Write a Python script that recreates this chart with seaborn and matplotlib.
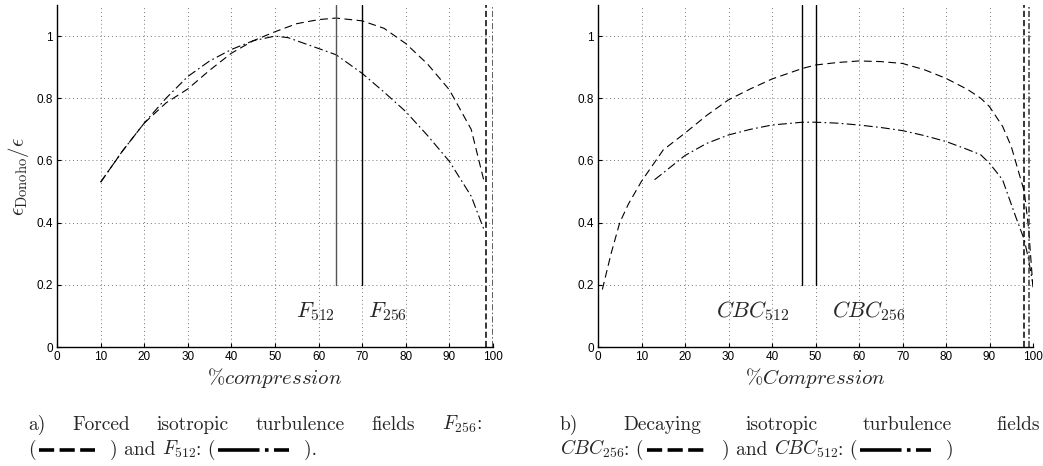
import numpy as np
import pandas as pd
import seaborn as sns
import matplotlib
matplotlib.use("Agg")
import matplotlib.pyplot as plt
from matplotlib.lines import Line2D

# Forced isotropic turbulence (panel a)
f256_x = [10, 15, 20, 25, 30, 35, 40, 45, 50, 55, 60, 64, 70, 75, 80, 85, 90, 95, 98]
f256_y = [0.53, 0.63, 0.72, 0.785, 0.83, 0.89, 0.945, 0.985, 1.014, 1.04, 1.053, 1.058, 1.049, 1.025, 0.976, 0.91, 0.827, 0.70, 0.53]
f512_x = [10, 15, 20, 25, 30, 35, 40, 45, 50, 53, 60, 64, 70, 75, 80, 85, 90, 95, 98]
f512_y = [0.53, 0.63, 0.72, 0.80, 0.87, 0.92, 0.957, 0.985, 1.0, 0.995, 0.96, 0.94, 0.88, 0.82, 0.757, 0.68, 0.597, 0.485, 0.375]
f_cut = [64, 70]          # optimal compression: F512, F256
f_thr = [98.3, 100]       # Donoho threshold: F256, F512

# Decaying isotropic turbulence (panel b)
c256_x = [1, 3, 5, 7, 10, 15, 20, 25, 30, 35, 40, 47, 50, 55, 60, 65, 70, 75, 80, 85, 88, 90, 93, 95, 98, 99, 100]
c256_y = [0.185, 0.30, 0.40, 0.46, 0.533, 0.634, 0.688, 0.745, 0.795, 0.83, 0.862, 0.896, 0.907, 0.915, 0.92, 0.918, 0.912, 0.892, 0.864, 0.828, 0.80, 0.773, 0.71, 0.645, 0.50, 0.38, 0.19]
c512_x = [13, 15, 20, 25, 30, 35, 40, 47, 50, 55, 60, 65, 70, 75, 80, 85, 88, 90, 93, 96, 98, 99, 100]
c512_y = [0.538, 0.56, 0.616, 0.655, 0.682, 0.70, 0.714, 0.723, 0.723, 0.72, 0.714, 0.706, 0.696, 0.68, 0.661, 0.635, 0.618, 0.591, 0.538, 0.42, 0.345, 0.28, 0.20]
c_cut = [47, 50]          # optimal compression: CBC512, CBC256
c_thr = [97.9, 99.0]      # Donoho threshold: CBC256, CBC512

sns.set_theme(style="white")
plt.rcParams["mathtext.fontset"] = "cm"
plt.rcParams["font.family"] = ["Liberation Sans", "DejaVu Sans"]

W, H = 1043, 466
fig = plt.figure(figsize=(W / 100, H / 100), dpi=100)

def px_axes(x0, x1, y0, y1):
    return fig.add_axes([x0 / W, 1 - y1 / H, (x1 - x0) / W, (y1 - y0) / H])

ax1 = px_axes(57, 493, 5, 347)
ax2 = px_axes(598, 1033, 5, 347)

DASH = (0, (7, 4))
DASHDOT = (0, (8, 3, 1.5, 3))

def style_axes(ax):
    ax.set_xlim(0, 100)
    ax.set_ylim(0, 1.1)
    ax.set_xticks(np.arange(0, 101, 10))
    ax.set_yticks([0, 0.2, 0.4, 0.6, 0.8, 1.0])
    ax.set_yticklabels(["0", "0.2", "0.4", "0.6", "0.8", "1"])
    ax.grid(True, linestyle=(0, (1, 3)), color="#777777", linewidth=0.7)
    for s in ("top", "right"):
        ax.spines[s].set_visible(False)
    for s in ("left", "bottom"):
        ax.spines[s].set_color("black")
        ax.spines[s].set_linewidth(1.0)
    ax.tick_params(direction="in", length=3, width=0.8, labelsize=8.5, pad=3,
                   colors="black", left=True, bottom=True)
    ax.set_facecolor("white")

def draw_panel(ax, xa, ya, xb, yb, cuts, cut_cols, thr, labels, label_x, xlabel):
    sns.lineplot(x=xa, y=ya, ax=ax, color="black", linewidth=0.8, linestyle=DASH, sort=False)
    sns.lineplot(x=xb, y=yb, ax=ax, color="black", linewidth=0.8, linestyle=DASHDOT, sort=False)
    for c, col in zip(cuts, cut_cols):
        ax.axvline(c, ymin=0.2 / 1.1, ymax=1, color=col, linewidth=1.0)
    ax.axvline(thr[0], color="black", linewidth=1.1, linestyle=(0, (4, 2)))
    ax.axvline(thr[1], color="#333333", linewidth=1.1, linestyle=(0, (4, 1.5, 1, 1.5)))
    for lab, lx in zip(labels, label_x):
        ax.text(lx, 0.115, lab, fontsize=16, ha="center", va="center")
    style_axes(ax)
    ax.set_xlabel(xlabel, fontsize=15, labelpad=2)

draw_panel(ax1, f256_x, f256_y, f512_x, f512_y, f_cut, ["#555555", "black"], f_thr,
           [r"$F_{512}$", r"$F_{256}$"], [59.2, 75.7], r"$\%compression$")
ax1.set_ylabel(r"$\epsilon_{\rm Donoho}/\epsilon$", fontsize=15, labelpad=4)

draw_panel(ax2, c256_x, c256_y, c512_x, c512_y, c_cut, ["black", "black"], c_thr,
           [r"$CBC_{512}$", r"$CBC_{256}$"], [35.5, 62.3], r"$\%Compression$")
ax2.set_ylabel("")

# ---- captions below the panels, laid out in pixel units ----
CAP_FS = 14
renderer = fig.canvas.get_renderer()

def put_text(x, base_y, s):
    t = fig.text(x / W, 1 - base_y / H, s, fontsize=CAP_FS, family="cmr10",
                 ha="left", va="baseline")
    bb = t.get_window_extent(renderer)
    return bb.x1

def sample(x0, x1, base_y, ls):
    y = 1 - (base_y - 5) / H
    fig.add_artist(Line2D([x0 / W, x1 / W], [y, y], color="black", linewidth=2.6,
                          linestyle=ls, solid_capstyle="butt", dash_capstyle="butt"))

def justify(words, x0, x1, base_y):
    widths = []
    for w in words:
        t = fig.text(0, 0, w, fontsize=CAP_FS, family="cmr10")
        widths.append(t.get_window_extent(renderer).width)
        t.remove()
    gap = (x1 - x0 - sum(widths)) / (len(words) - 1)
    x = x0
    for w, wd in zip(words, widths):
        put_text(x, base_y, w)
        x += wd + gap

def line_of_pieces(pieces, x0, base_y):
    x = x0
    for p in pieces:
        if isinstance(p, tuple):
            width, ls = p
            sample(x + 3, x + 3 + width, base_y, ls)
            x += width + 5
        else:
            x = put_text(x, base_y, p)

DASH_S = (0, (4.2, 1.5))
DDOT_S = (0, (11.5, 1.5, 1.0, 1.5))

L1, L2 = 430, 455
justify(["a)", "Forced", "isotropic", "turbulence", "fields", r"$F_{256}$:"], 28, 482, L1)
line_of_pieces(["(", (56, DASH_S), "  ) and ", r"$F_{512}$", ": (", (71, DDOT_S), "  )."], 28, L2)

justify(["b)", "Decaying", "isotropic", "turbulence", "fields"], 560, 1040, L1)
line_of_pieces([r"$CBC_{256}$", ": (", (60, DASH_S), "  ) and ", r"$CBC_{512}$", ": (",
                (71, DDOT_S), "  )"], 560, L2)

fig.savefig("out.png", dpi=100, facecolor="white")
